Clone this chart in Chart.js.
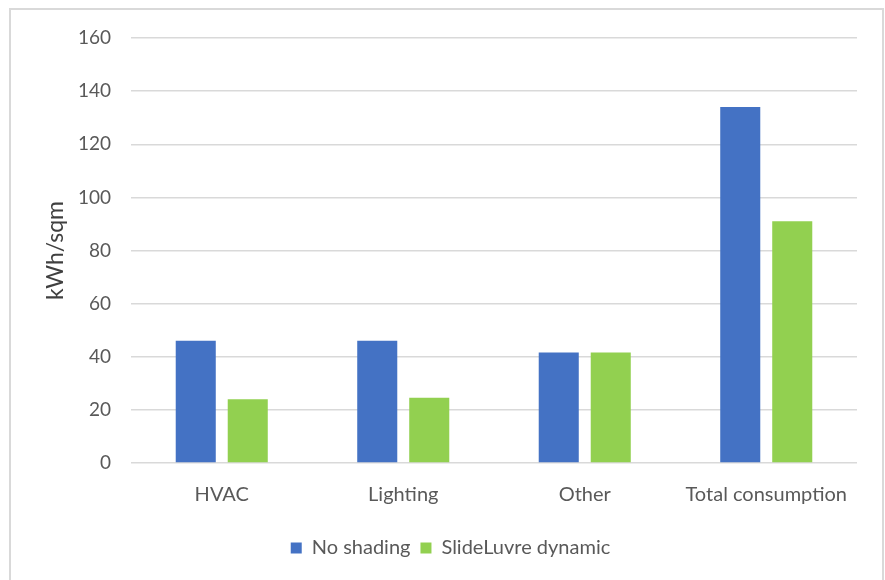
<!DOCTYPE html>
<html>
<head>
<meta charset="utf-8">
<script src="https://cdn.jsdelivr.net/npm/chart.js@4"></script>
<style>
  body { margin: 0; background: #fff; }
  #wrap { position: relative; width: 885px; height: 580px; }
  #frame { position: absolute; left: 9px; top: 8px; width: 871px; height: 580px;
           border: 2px solid #d9d9d9; border-bottom: none; pointer-events: none; }
</style>
</head>
<body>
<div id="wrap">
  <canvas id="chart" width="885" height="580"></canvas>
  <div id="frame"></div>
</div>
<script>
const categories = ["HVAC", "Lighting", "Other", "Total consumption"];
const noShading = [46, 46, 41.6, 134];
const slideLuvre = [24, 24.6, 41.6, 91];
const seriesNames = ["No shading", "SlideLuvre dynamic"];

const FONT = "Lato, 'Open Sans', sans-serif";
const GREY = "#595959";

// nudge the legend so it sits centred like the original
const legendShift = {
  id: "legendShift",
  afterLayout(chart) {
    chart.legend.left += 22;
    chart.legend.right += 22;
  }
};

const ctx = document.getElementById("chart").getContext("2d");
new Chart(ctx, {
  type: "bar",
  data: {
    labels: categories,
    datasets: [
      { label: seriesNames[0], data: noShading, backgroundColor: "#4472C4",
        categoryPercentage: 0.573, barPercentage: 0.77 },
      { label: seriesNames[1], data: slideLuvre, backgroundColor: "#92D050",
        categoryPercentage: 0.573, barPercentage: 0.77 }
    ]
  },
  plugins: [legendShift],
  options: {
    responsive: false,
    animation: false,
    layout: { padding: { top: 38, right: 28, bottom: 12, left: 0 } },
    plugins: {
      tooltip: { enabled: false },
      legend: {
        position: "bottom",
        labels: {
          boxWidth: 11, boxHeight: 11, padding: 10,
          color: GREY, font: { family: FONT, size: 20 }
        }
      }
    },
    scales: {
      x: {
        grid: { display: false, drawTicks: false },
        border: { display: false },
        ticks: { color: GREY, padding: 20, font: { family: FONT, size: 20 } },
        afterFit: s => { s.height = 65; }
      },
      y: {
        min: 0, max: 160,
        ticks: { stepSize: 20, color: GREY, padding: 20, font: { family: FONT, size: 19 } },
        grid: { color: "#d9d9d9", lineWidth: 1.5, drawTicks: false },
        border: { display: false },
        title: {
          display: true, text: "kWh/sqm", color: "#404040",
          font: { family: FONT, size: 23 }, padding: { top: 42, bottom: 0 }
        },
        afterFit: s => { s.width = 131; }
      }
    }
  }
});
</script>
</body>
</html>
